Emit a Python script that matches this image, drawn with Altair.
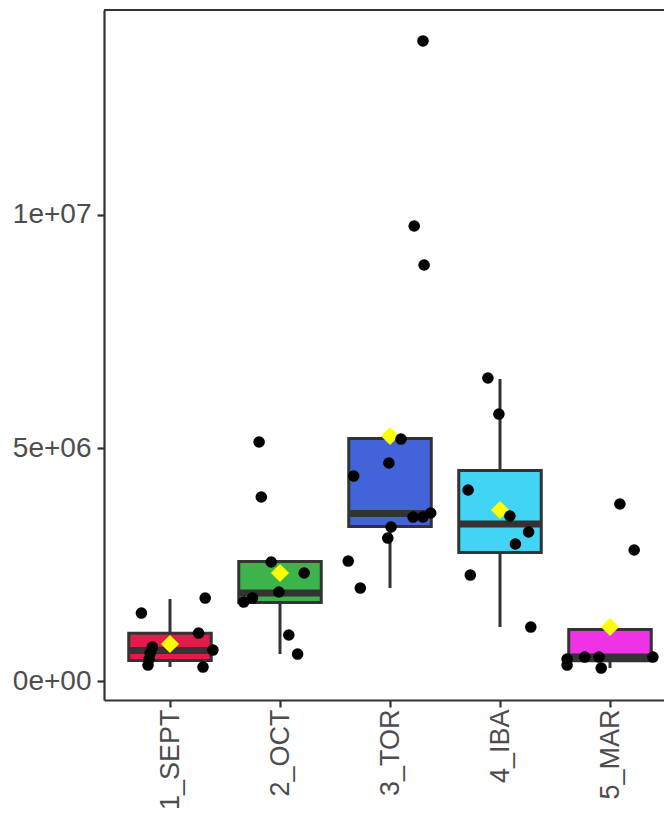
import altair as alt
import pandas as pd

# ---- data ----
categories = ["1_SEPT", "2_OCT", "3_TOR", "4_IBA", "5_MAR"]
fill_colors = ["#e6194B", "#3cb44b", "#4363d8", "#42d4f4", "#f032e6"]

# box statistics (values)
whisker_lo = [307000, 585000, 2000000, 1164000, 285000]
q1 = [446000, 1689000, 3318000, 2761000, 440000]
median = [660000, 1893000, 3597000, 3372000, 520000]
q3 = [1030000, 2568000, 5205000, 4519000, 1110000]
whisker_hi = [1764000, 2568000, 5205000, 6480000, 1110000]
means = [800000, 2322000, 5258000, 3672000, 1164000]

# jittered observations
pt_group = (["1_SEPT"] * 9 + ["2_OCT"] * 9 + ["3_TOR"] * 13 + ["4_IBA"] * 8 + ["5_MAR"] * 8)
pt_value = [
    1464000, 1786000, 1035000, 671000, 307000, 735000, 606000, 478000, 349000,
    5130000, 3951000, 2558000, 2322000, 1915000, 1786000, 1700000, 993000, 585000,
    13726000, 9760000, 8924000, 5194000, 4680000, 4401000, 3522000, 3522000, 3608000,
    3308000, 3072000, 2579000, 2000000,
    6502000, 5730000, 4101000, 3544000, 3201000, 2944000, 2279000, 1164000,
    3801000, 2815000, 478000, 349000, 521000, 521000, 285000, 521000,
]
pt_jitter = [
    -0.26, 0.32, 0.26, 0.39, 0.30, -0.16, -0.18, -0.19, -0.20,
    -0.19, -0.17, -0.08, 0.22, -0.01, -0.25, -0.33, 0.08, 0.16,
    0.30, 0.22, 0.31, 0.10, -0.01, -0.33, 0.21, 0.30, 0.37, 0.01, -0.02, -0.38, -0.27,
    -0.11, -0.01, -0.29, 0.09, 0.26, 0.14, -0.27, 0.28,
    0.09, 0.22, -0.39, -0.39, -0.23, -0.10, -0.08, 0.39,
]

y_tick_values = [0, 5000000, 10000000]
y_tick_labels = ["0e+00", "5e+06", "1e+07"]

# ---- tables ----
stats = pd.DataFrame({
    "cat": categories,
    "idx": list(range(1, len(categories) + 1)),
    "lo": whisker_lo, "q1": q1, "med": median, "q3": q3, "hi": whisker_hi, "mean": means,
})
pts = pd.DataFrame({"cat": pt_group, "value": pt_value, "jit": pt_jitter})
pts["idx"] = pts["cat"].map({c: i + 1 for i, c in enumerate(categories)})

PLOT_W, PLOT_H = 560, 690
BOX_HALF = 0.375
x_domain = [0.4, 0.4 + PLOT_W / 110.0]
y_domain = [-400000, 14390000]

FONT = "Liberation Sans"
GREY = "#333333"

x_label_expr = "[" + ",".join("'%s'" % c for c in categories) + "][datum.value - 1]"
y_label_expr = ""
for v, l in zip(y_tick_values, y_tick_labels):
    y_label_expr += "datum.value == %d ? '%s' : " % (v, l)
y_label_expr += "''"

x_scale = alt.Scale(domain=x_domain, nice=False, zero=False)
y_scale = alt.Scale(domain=y_domain, nice=False, zero=False)
x_axis = alt.Axis(values=[1, 2, 3, 4, 5], labelExpr=x_label_expr, labelAngle=-90,
                  title=None, grid=False, domainColor=GREY, domainWidth=2.2,
                  tickColor=GREY, tickWidth=2.2, tickSize=7, labelPadding=2,
                  labelFontSize=27, labelColor="#4D4D4D", labelFont=FONT,
                  labelAlign="right", labelBaseline="middle")
y_axis = alt.Axis(values=y_tick_values, labelExpr=y_label_expr, title=None, grid=False,
                  domainColor=GREY, domainWidth=2.2, tickColor=GREY, tickWidth=2.2,
                  tickSize=7, labelPadding=6, labelFontSize=28, labelColor="#4D4D4D",
                  labelFont=FONT)


def X(field):
    return alt.X(field, type="quantitative", scale=x_scale, axis=x_axis)


def Y(field):
    return alt.Y(field, type="quantitative", scale=y_scale, axis=y_axis)


color = alt.Color("cat:N", scale=alt.Scale(domain=categories, range=fill_colors), legend=None)

base = alt.Chart(stats)

whiskers = base.mark_rule(color=GREY, strokeWidth=3).encode(
    x=X("idx"), y=Y("lo"), y2="hi"
)

boxes = base.mark_bar(stroke=GREY, strokeWidth=3, opacity=1).transform_calculate(
    xl="datum.idx - %f" % BOX_HALF, xr="datum.idx + %f" % BOX_HALF
).encode(x=X("xl"), x2="xr", y=Y("q1"), y2="q3", fill=color)

medians = base.mark_rule(color=GREY, strokeWidth=7).transform_calculate(
    xl="datum.idx - %f" % BOX_HALF, xr="datum.idx + %f" % BOX_HALF
).encode(x=X("xl"), x2="xr", y=Y("med"))

mean_pts = base.mark_point(shape="diamond", filled=True, color="#FFFF00", size=330,
                           opacity=1).encode(x=X("idx"), y=Y("mean"))

dots = alt.Chart(pts).mark_circle(color="black", size=135, opacity=1).transform_calculate(
    xp="datum.idx + datum.jit"
).encode(x=X("xp"), y=Y("value"))

top_border = alt.Chart(stats).mark_rule(color=GREY, strokeWidth=2.2).encode(
    x=alt.value(0), x2=alt.value(PLOT_W), y=alt.value(0)
)

chart = alt.layer(whiskers, boxes, medians, mean_pts, dots, top_border).properties(
    width=PLOT_W, height=PLOT_H,
    autosize=alt.AutoSizeParams(type="none"),
    padding={"left": 96, "top": 2, "right": 0, "bottom": 109},
).configure_view(stroke="transparent").configure(background="white")

chart.save("out.html", embed_options={"renderer": "svg", "actions": False})
